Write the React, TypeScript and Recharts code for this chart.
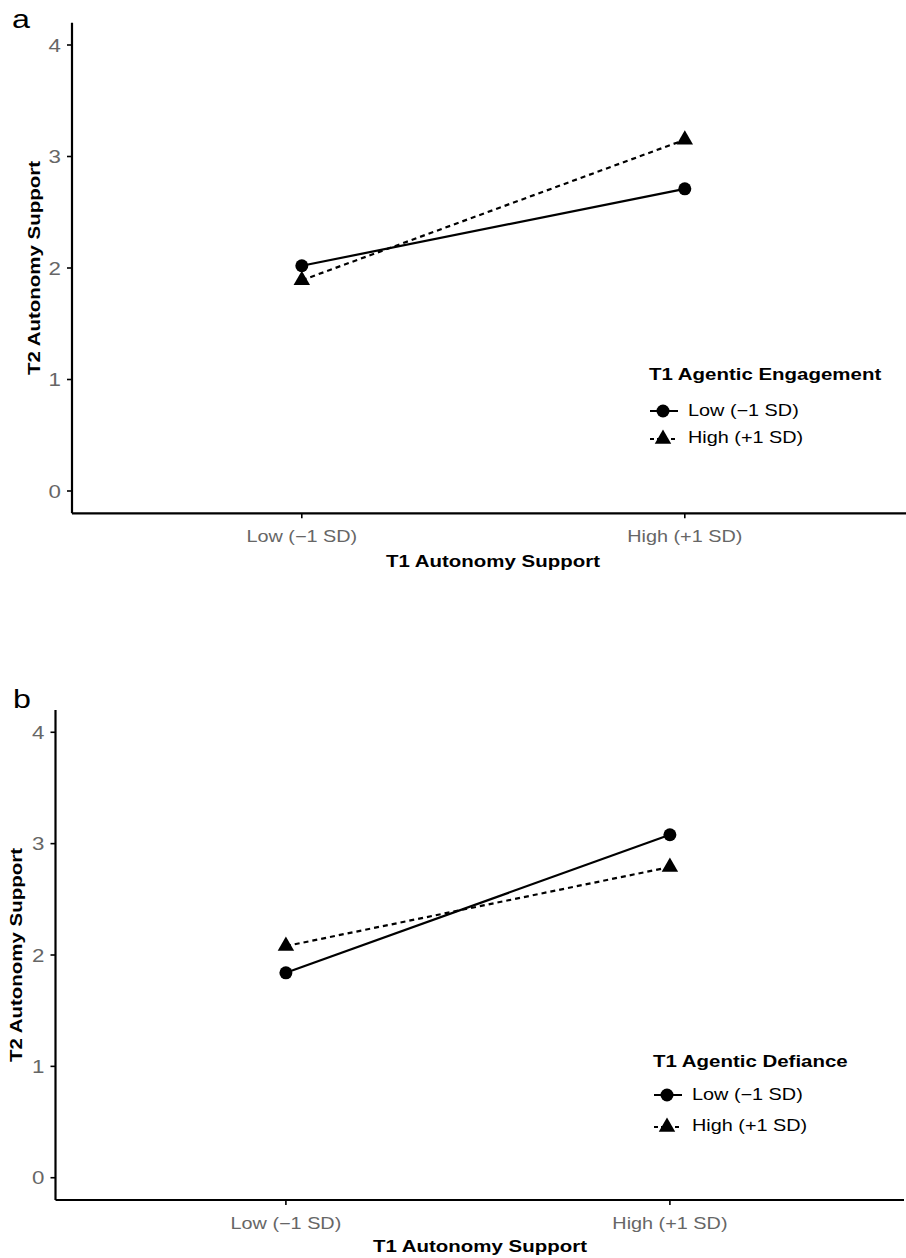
import React from "react";
import { LineChart, Line, XAxis, YAxis, Legend } from "recharts";

// x levels of the moderator plot
const levels = ["Low (\u22121 SD)", "High (+1 SD)"];
const levelPos = [1, 2];
const yTicks = [0, 1, 2, 3, 4];
const groupNames = ["Low (\u22121 SD)", "High (+1 SD)"];

// panel a: T1 agentic engagement as moderator
const engagementLow = [2.02, 2.71];
const engagementHigh = [1.89, 3.15];

// panel b: T1 agentic defiance as moderator
const defianceLow = [1.84, 3.08];
const defianceHigh = [2.08, 2.79];

const FONT = '"Liberation Sans", Arial, Helvetica, sans-serif';
const SX = 1.24; // the original figure is stretched sideways
const TICK_GREY = "#666";

const buildRows = (low: number[], high: number[]) =>
  levels.map((name, i) => ({ pos: levelPos[i], name, low: low[i], high: high[i] }));

const levelLabel = (v: number) => levels[levelPos.indexOf(v)] ?? "";

const SText = ({ x, y, anchor = "start", size = 16, bold = false, fill = "#000", rotate = false, children }: any) => (
  <text
    transform={`translate(${x} ${y})${rotate ? " rotate(-90)" : ""} scale(${SX} 1)`}
    textAnchor={anchor}
    fontFamily={FONT}
    fontSize={size}
    fontWeight={bold ? "bold" : "normal"}
    fill={fill}
  >
    {children}
  </text>
);

const CircleDot = (p: any) =>
  p.cx == null ? <g key={p.key} /> : <circle key={p.key} cx={p.cx} cy={p.cy} r={6.5} fill="#000" />;

// R pch 17 geometry: apex r above the centre, base r/2 below
const triPath = (cx: number, cy: number, r = 9.5) =>
  `M${cx},${cy - r} L${cx + r * 0.866},${cy + r / 2} L${cx - r * 0.866},${cy + r / 2} Z`;

const TriangleDot = (p: any) =>
  p.cx == null ? <g key={p.key} /> : <path key={p.key} d={triPath(p.cx, p.cy)} fill="#000" />;

const XTick = (p: any) => (
  <SText x={p.x} y={p.y + 24} anchor="middle" fill={TICK_GREY}>
    {levelLabel(p.payload.value)}
  </SText>
);

const YTick = (p: any) => (
  <SText x={p.x - 6} y={p.y + 6.5} anchor="end" size={18} fill={TICK_GREY}>
    {p.payload.value}
  </SText>
);

const LegendBox = ({ title, lay }: any) => (
  <svg width={266} height={110} style={{ display: "block", overflow: "visible" }}>
    <SText x={lay.titleX} y={lay.titleY} size={16.5} bold>
      {title}
    </SText>
    <line x1={lay.symX - 13} x2={lay.symX + 15} y1={lay.row1} y2={lay.row1} stroke="#000" strokeWidth={2} />
    <circle cx={lay.symX} cy={lay.row1} r={6.5} fill="#000" />
    <SText x={lay.textX} y={lay.row1 + 5} size={16}>
      {groupNames[0]}
    </SText>
    <line x1={lay.symX - 13} x2={lay.symX + 15} y1={lay.row2} y2={lay.row2} stroke="#000" strokeWidth={2} strokeDasharray="4 3" />
    <path d={triPath(lay.symX, lay.row2)} fill="#000" />
    <SText x={lay.textX} y={lay.row2 + 4} size={16}>
      {groupNames[1]}
    </SText>
  </svg>
);

function Panel(props: any) {
  const {
    top, letter, legendTitle, low, high,
    plotLeft, plotRight, plotTop, plotBottom, unit,
    yTitleX, yTitleY, xTitleX, xTitleY, legendX, legendY, legendLayout,
  } = props;
  const width = 906;
  const height = 600;
  const rows = buildRows(low, high);
  const xMin = levelPos[0] - 0.6;
  const xMax = xMin + (plotRight - plotLeft) / unit;
  const axisStyle = { stroke: "#000", strokeWidth: 2.2 };

  return (
    <div style={{ position: "absolute", left: 0, top, width, height }}>
      <LineChart
        width={width}
        height={height}
        data={rows}
        margin={{ top: plotTop, right: width - plotRight, bottom: height - plotBottom - 30, left: 0 }}
      >
        <XAxis
          dataKey="pos"
          type="number"
          domain={[xMin, xMax]}
          ticks={levelPos}
          height={30}
          tickSize={5}
          tickMargin={0}
          axisLine={axisStyle}
          tickLine={{ stroke: "#000", strokeWidth: 1.6 }}
          tick={<XTick />}
          interval={0}
        />
        <YAxis
          type="number"
          domain={[-0.2, 4.2]}
          ticks={yTicks}
          width={plotLeft}
          tickSize={5}
          tickMargin={0}
          axisLine={axisStyle}
          tickLine={{ stroke: "#000", strokeWidth: 1.6 }}
          tick={<YTick />}
          interval={0}
        />
        <Line
          dataKey="low"
          name={groupNames[0]}
          type="linear"
          stroke="#000"
          strokeWidth={2.2}
          dot={<CircleDot />}
          activeDot={false}
          isAnimationActive={false}
        />
        <Line
          dataKey="high"
          name={groupNames[1]}
          type="linear"
          stroke="#000"
          strokeWidth={2.2}
          strokeDasharray="5 4"
          dot={<TriangleDot />}
          activeDot={false}
          isAnimationActive={false}
        />
        <Legend
          layout="horizontal"
          verticalAlign="middle"
          align="center"
          wrapperStyle={{ left: legendX, top: legendY, width: 266, height: 110 }}
          content={() => <LegendBox title={legendTitle} lay={legendLayout} />}
        />
      </LineChart>

      {/* titles and panel letter */}
      <svg
        width={width}
        height={height}
        style={{ position: "absolute", left: 0, top: 0, pointerEvents: "none" }}
      >
        <SText x={letter.x} y={letter.y} size={26}>
          {letter.text}
        </SText>
        <SText x={yTitleX} y={yTitleY} anchor="middle" size={16.5} bold rotate>
          T2 Autonomy Support
        </SText>
        <SText x={xTitleX} y={xTitleY} anchor="middle" size={16.5} bold>
          T1 Autonomy Support
        </SText>
      </svg>
    </div>
  );
}

export default function App() {
  return (
    <div style={{ position: "absolute", left: 0, top: 0, width: 906, height: 1258, background: "#fff" }}>
      <Panel
        top={0}
        letter={{ text: "a", x: 12, y: 28 }}
        legendTitle="T1 Agentic Engagement"
        low={engagementLow}
        high={engagementHigh}
        plotLeft={72}
        plotRight={906}
        plotTop={22.7}
        plotBottom={513.3}
        unit={383}
        yTitleX={40}
        yTitleY={268}
        xTitleX={493}
        xTitleY={567}
        legendX={640}
        legendY={360}
        legendLayout={{ titleX: 9, titleY: 20, symX: 23, textX: 48, row1: 51, row2: 79 }}
      />
      <Panel
        top={680}
        letter={{ text: "b", x: 13, y: 28 }}
        legendTitle="T1 Agentic Defiance"
        low={defianceLow}
        high={defianceHigh}
        plotLeft={55.5}
        plotRight={904}
        plotTop={30}
        plotBottom={520}
        unit={384}
        yTitleX={22}
        yTitleY={275}
        xTitleX={480}
        xTitleY={572}
        legendX={640}
        legendY={360}
        legendLayout={{ titleX: 13, titleY: 27, symX: 27, textX: 52, row1: 55, row2: 87 }}
      />
    </div>
  );
}
